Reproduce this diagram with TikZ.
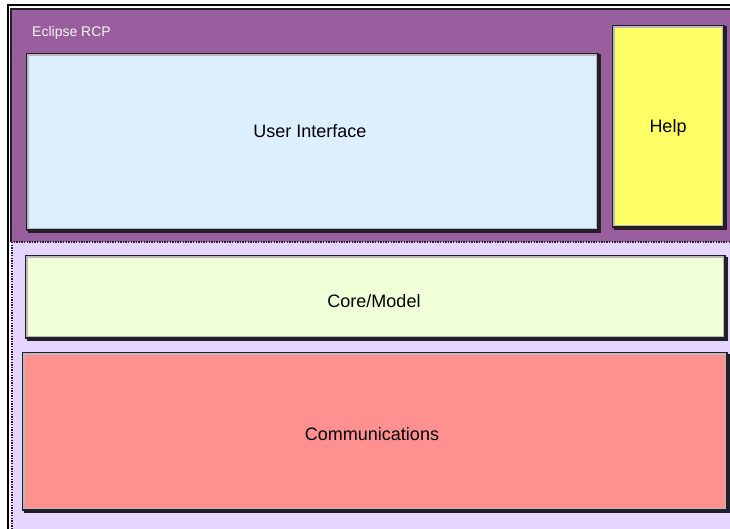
\documentclass[tikz,border=0pt]{standalone}
\usepackage{fontspec}
\setmainfont{Liberation Sans}
\definecolor{rcppurple}{RGB}{153,94,158}
\definecolor{lav}{RGB}{230,214,255}
\definecolor{uiblue}{RGB}{221,238,255}
\definecolor{helpyel}{RGB}{255,255,102}
\definecolor{coregreen}{RGB}{240,255,216}
\definecolor{commred}{RGB}{255,144,144}
\definecolor{edge}{RGB}{35,30,40}
\tikzset{
  layerbox/.style={draw=edge, line width=1.8pt, anchor=north west, inner sep=0pt, rectangle},
  boxtext/.style={font=\fontsize{18}{22}\selectfont, text=black, inner sep=0pt},
  dotline/.style={draw=black!85, line width=2pt, dash pattern=on 1.3pt off 1.3pt},
}
\newcommand{\innerline}[1]{%
  \draw[gray!55, line width=1.6pt]
    ([shift={(2.2pt,-2.2pt)}]#1.north west) rectangle ([shift={(-2.2pt,2.2pt)}]#1.south east);
  \draw[edge, line width=1.4pt]
    ([shift={(1.2pt,-1.5pt)}]#1.north east) -- ([shift={(1.2pt,-1.2pt)}]#1.south east) -- ([shift={(1.5pt,-1.2pt)}]#1.south west);}
\begin{document}
\begin{tikzpicture}[x=1pt,y={(0pt,-1pt)}]
\useasboundingbox (0,0) rectangle (730,529);
\fill[white] (0,0) rectangle (730,529);
\begin{scope}
\clip (0,0) rectangle (730,529);
% outer frame
\draw[black, line width=1.2pt] (8,540) -- (8,5) -- (740,5);
% purple Eclipse RCP region
\fill[rcppurple] (11,9) rectangle (740,242);
\draw[edge, line width=1.2pt] (11,242) -- (11,9) -- (740,9);
% lavender region
\fill[lav] (11,242) rectangle (740,540);
\draw[dotline] (11,242) -- (740,242);
\draw[dotline] (12,242) -- (12,540);
\end{scope}
\node[anchor=base west, text=white!92!gray, font=\fontsize{14}{17}\selectfont, inner sep=0pt] (rcp) at (32,36.5) {Eclipse RCP};
% boxes
\node[layerbox, fill=uiblue, minimum width=571pt, minimum height=176pt] (ui) at (26,53) {};
\innerline{ui}
\node[layerbox, fill=helpyel, minimum width=111pt, minimum height=201pt] (help) at (612,25) {};
\innerline{help}
\node[layerbox, fill=coregreen, minimum width=699pt, minimum height=82pt] (core) at (25,255) {};
\innerline{core}
\node[layerbox, fill=commred, minimum width=704pt, minimum height=157pt] (comm) at (22,352) {};
\innerline{comm}
% texts
\node[boxtext] (uit) at (310,131) {User Interface};
\node[boxtext] (helpt) at (668,128) {Help};
\node[boxtext] (coret) at (374,301) {Core/Model};
\node[boxtext] (commt) at (372,434) {Communications};
\end{tikzpicture}
\end{document}
